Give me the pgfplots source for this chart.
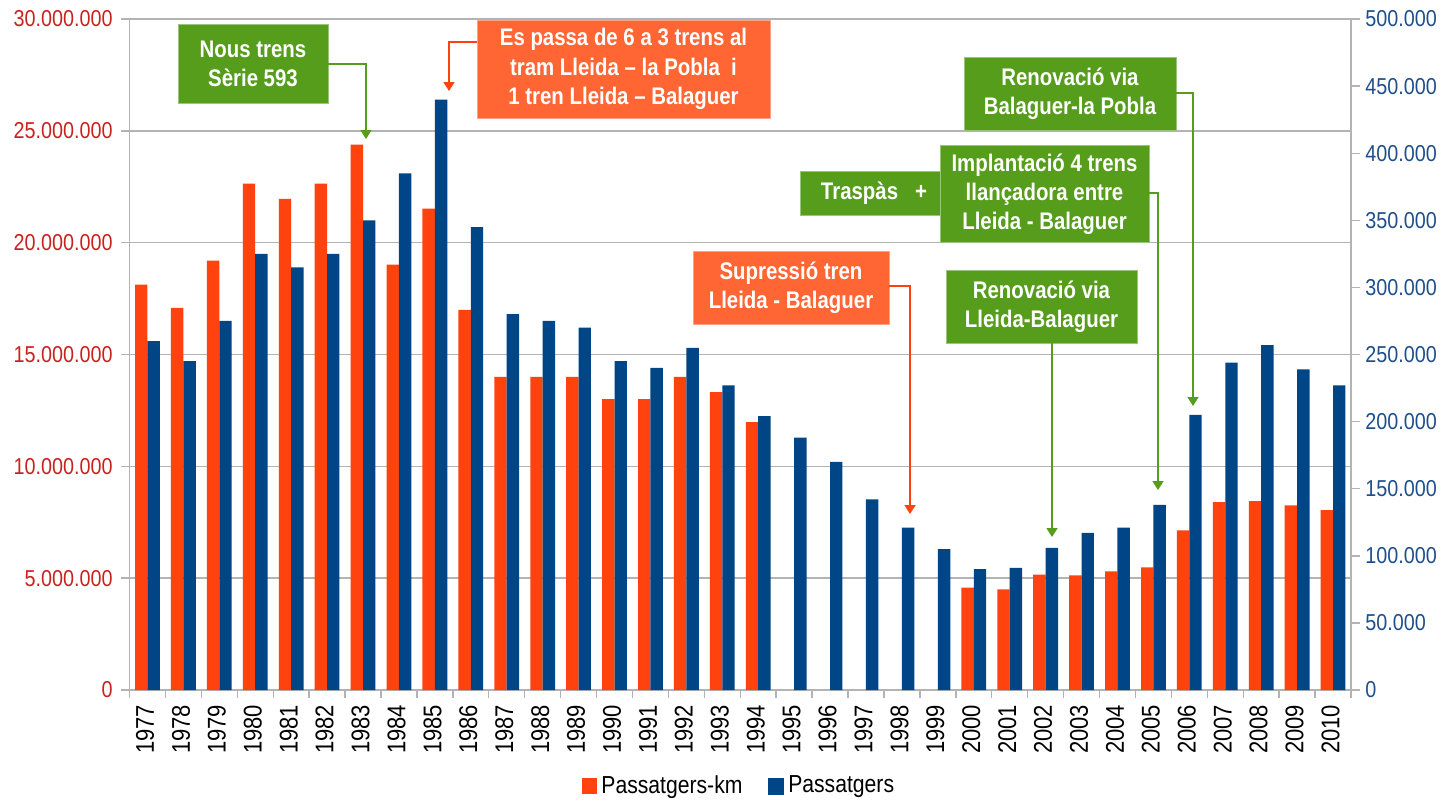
\documentclass[border=0pt]{standalone}
\usepackage{fontspec}
\setmainfont{Liberation Sans}
\newfontfamily\tickfont[FakeStretch=0.86]{Liberation Sans}
\newfontfamily\annfont[FakeStretch=0.85]{Liberation Sans Bold}
\usepackage{pgfplots}
\usepackage{pgfplotstable}
\pgfplotsset{compat=1.18}
\usetikzlibrary{arrows.meta}

\definecolor{redbar}{HTML}{FF420E}
\definecolor{bluebar}{HTML}{004586}
\definecolor{grn}{HTML}{579D1C}
\definecolor{orng}{HTML}{FF6633}
\definecolor{arrred}{HTML}{FF420E}
\definecolor{gridgray}{HTML}{B3B3B3}
\definecolor{leftlab}{HTML}{C9211E}
\definecolor{rightlab}{HTML}{1E4F8C}

\pgfplotstableread{
year pkm
1977 18120000
1978 17080000
1979 19200000
1980 22640000
1981 21960000
1982 22640000
1983 24380000
1984 19020000
1985 21520000
1986 17000000
1987 14000000
1988 14000000
1989 14000000
1990 13000000
1991 13000000
1992 14000000
1993 13320000
1994 11980000
2000 4580000
2001 4500000
2002 5160000
2003 5120000
2004 5300000
2005 5480000
2006 7140000
2007 8400000
2008 8440000
2009 8260000
2010 8040000
}\pkmdata

\pgfplotstableread{
year pax
1977 260000
1978 245000
1979 275000
1980 325000
1981 315000
1982 325000
1983 350000
1984 385000
1985 440000
1986 345000
1987 280000
1988 275000
1989 270000
1990 245000
1991 240000
1992 255000
1993 227000
1994 204000
1995 188000
1996 170000
1997 142000
1998 121000
1999 105000
2000 90000
2001 91000
2002 106000
2003 117000
2004 121000
2005 138000
2006 205000
2007 244000
2008 257000
2009 239000
2010 227000
}\paxdata

\tikzset{annot/.style={text=white, align=center, inner sep=0pt,
  font=\annfont\fontsize{12}{14.6}\selectfont}}

\begin{document}
\begin{tikzpicture}
\begin{axis}[
  scale only axis, width=610.75pt, height=335.5pt,
  xmin=1976.5, xmax=2010.5, ymin=0, ymax=30000000,
  axis x line*=bottom, axis y line*=left,
  axis line style={draw=gridgray, line width=0.7pt},
  ymajorgrids, major grid style={draw=gridgray, line width=0.7pt},
  tick align=outside,
  xtick={1977,...,2010},
  xticklabels={1977,1978,1979,1980,1981,1982,1983,1984,1985,1986,1987,1988,1989,1990,1991,1992,1993,1994,1995,1996,1997,1998,1999,2000,2001,2002,2003,2004,2005,2006,2007,2008,2009,2010},
  minor xtick={1976.5,1977.5,...,2010.5},
  major x tick style={draw=none},
  minor tick style={draw=gridgray, line width=0.7pt},
  minor tick length=3.75pt,
  major tick length=4.25pt,
  major y tick style={draw=gridgray, line width=0.7pt},
  xticklabel style={xshift=-1.2pt, yshift=-3pt, rotate=90, anchor=east, inner sep=0pt,
    font=\tickfont\fontsize{12.8}{14}\selectfont, text=black},
  ytick={0,5000000,10000000,15000000,20000000,25000000,30000000},
  yticklabels={0,5.000.000,10.000.000,15.000.000,20.000.000,25.000.000,30.000.000},
  scaled y ticks=false,
  yticklabel style={font=\tickfont\fontsize{11.5}{13}\selectfont, text=leftlab, inner sep=0pt, xshift=-4pt},
  legend style={at={(0.5,0)}, anchor=center, yshift=-48pt, draw=none, fill=none,
    font=\tickfont\fontsize{12.3}{14}\selectfont, legend columns=2,
    /tikz/every even column/.append style={column sep=11pt}},
  legend cell align=left,
]
\addplot[ybar, bar width=6.2pt, bar shift=-3.1pt, fill=redbar, draw=none,
  legend image code/.code={\fill[redbar] (0pt,-4pt) rectangle (7.5pt,4pt);}]
  table[x=year, y=pkm] {\pkmdata};
\addlegendentry{Passatgers-km}
\addlegendimage{legend image code/.code={\fill[bluebar] (0pt,-4pt) rectangle (7.5pt,4pt);}}
\addlegendentry{Passatgers}
\end{axis}

\begin{axis}[
  scale only axis, width=610.75pt, height=335.5pt,
  xmin=1976.5, xmax=2010.5, ymin=0, ymax=500000,
  axis x line=none, axis y line*=right,
  axis line style={draw=gridgray, line width=0.7pt},
  tick align=outside,
  major tick length=4.5pt,
  tick style={draw=gridgray, line width=0.7pt},
  ytick={0,50000,100000,150000,200000,250000,300000,350000,400000,450000,500000},
  yticklabels={0,50.000,100.000,150.000,200.000,250.000,300.000,350.000,400.000,450.000,500.000},
  scaled y ticks=false,
  yticklabel style={font=\tickfont\fontsize{11.5}{13}\selectfont, text=rightlab, inner sep=0pt, xshift=2.5pt},
]
\addplot[ybar, bar width=6.2pt, bar shift=3.1pt, fill=bluebar, draw=none]
  table[x=year, y=pax] {\paxdata};
\end{axis}

\begin{scope}[shift={(-64.75pt,345pt)}, x=0.5pt, y=-0.5pt]
  \tikzset{arr/.style={line width=0.8pt, -{Triangle[width=5.5pt,length=4.5pt]}}}
  \tikzset{gbox/.style={fill=grn, draw=grn!60!white, line width=0.4pt}}
  \tikzset{obox/.style={fill=orng, draw=orng!60!white, line width=0.4pt}}
  % Nous trens
  \path[gbox] (178,24) rectangle (328,103);
  \node[annot] at (253,63.5) {Nous trens\\Sèrie 593};
  \draw[arr, grn] (328,64) -| (366,139);
  % Es passa
  \path[obox] (477,20) rectangle (770,118);
  \node[annot] at (623.5,69) {Es passa de 6 a 3 trens al\\tram Lleida – la Pobla\ \ i\\1 tren Lleida – Balaguer};
  \draw[arr, arrred] (477,42) -| (449,91);
  % Supressio
  \path[obox] (693,251) rectangle (889,324);
  \node[annot] at (791,287.5) {Supressió tren\\Lleida - Balaguer};
  \draw[arr, arrred] (889,286) -| (910,514);
  % Traspas
  \path[gbox] (800,171) rectangle (945,215);
  \node[annot] at (874,193) {Traspàs\ \ \ +};
  % Implantacio
  \path[gbox] (940,145.5) rectangle (1149,242);
  \node[annot] at (1044.5,194) {Implantació 4 trens\\llançadora entre\\Lleida - Balaguer};
  \draw[arr, grn] (1149,193) -| (1158,490);
  % Renovacio B-P
  \path[gbox] (964,57) rectangle (1176,130);
  \node[annot] at (1070,93.5) {Renovació via\\Balaguer-la Pobla};
  \draw[arr, grn] (1176,93) -| (1193,406);
  % Renovacio L-B
  \path[gbox] (946,270) rectangle (1137,343);
  \node[annot] at (1041.5,306.5) {Renovació via\\Lleida-Balaguer};
  \draw[arr, grn] (1052,343) -- (1052,537);
\end{scope}

\pgfresetboundingbox
\path[use as bounding box] (-64.75pt,-55pt) rectangle (657.25pt,345pt);
\end{tikzpicture}
\end{document}
